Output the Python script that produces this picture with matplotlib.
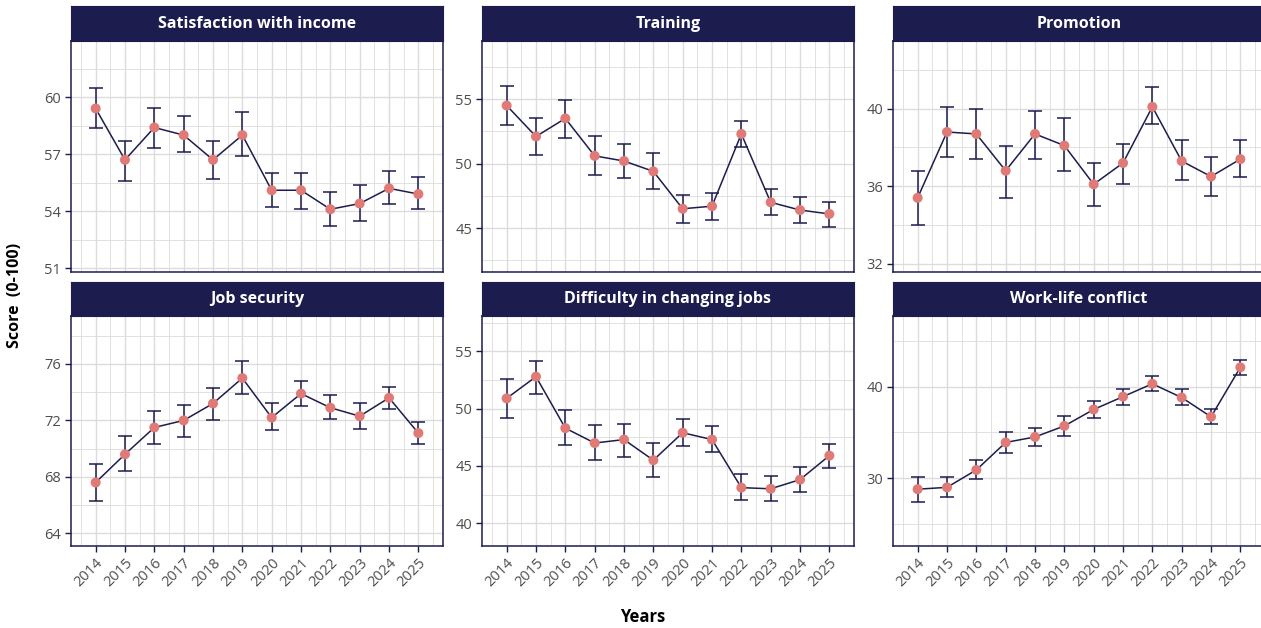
import matplotlib
matplotlib.use("Agg")
import matplotlib.pyplot as plt
from matplotlib.ticker import FixedLocator, MultipleLocator
import numpy as np

plt.rcParams['font.family'] = ['Open Sans', 'DejaVu Sans']

years = [2014, 2015, 2016, 2017, 2018, 2019, 2020, 2021, 2022, 2023, 2024, 2025]

titles = ["Satisfaction with income", "Training", "Promotion",
          "Job security", "Difficulty in changing jobs", "Work-life conflict"]

income_mean = [59.4, 56.7, 58.4, 58.0, 56.7, 58.0, 55.1, 55.1, 54.1, 54.4, 55.2, 54.9]
income_lo = [58.4, 55.6, 57.3, 57.1, 55.7, 56.9, 54.2, 54.1, 53.2, 53.5, 54.4, 54.1]
income_hi = [60.5, 57.7, 59.4, 59.0, 57.7, 59.2, 56.0, 56.0, 55.0, 55.4, 56.1, 55.8]

training_mean = [54.5, 52.1, 53.5, 50.6, 50.2, 49.4, 46.5, 46.7, 52.3, 47.0, 46.4, 46.1]
training_lo = [53.0, 50.7, 52.0, 49.1, 48.9, 48.0, 45.4, 45.6, 51.3, 46.0, 45.4, 45.1]
training_hi = [56.0, 53.5, 54.9, 52.1, 51.5, 50.8, 47.6, 47.7, 53.3, 48.0, 47.4, 47.0]

promotion_mean = [35.4, 38.8, 38.7, 36.8, 38.7, 38.1, 36.1, 37.2, 40.1, 37.3, 36.5, 37.4]
promotion_lo = [34.0, 37.5, 37.4, 35.4, 37.4, 36.8, 35.0, 36.1, 39.2, 36.3, 35.5, 36.5]
promotion_hi = [36.8, 40.1, 40.0, 38.1, 39.9, 39.5, 37.2, 38.2, 41.1, 38.4, 37.5, 38.4]

security_mean = [67.6, 69.6, 71.5, 72.0, 73.2, 75.0, 72.2, 73.9, 72.9, 72.3, 73.6, 71.1]
security_lo = [66.3, 68.4, 70.3, 70.8, 72.0, 73.9, 71.3, 73.0, 72.1, 71.4, 72.8, 70.3]
security_hi = [68.9, 70.9, 72.7, 73.1, 74.3, 76.2, 73.2, 74.8, 73.8, 73.2, 74.4, 71.9]

changing_mean = [50.9, 52.8, 48.3, 47.0, 47.3, 45.5, 47.9, 47.3, 43.1, 43.0, 43.8, 45.9]
changing_lo = [49.2, 51.3, 46.8, 45.5, 45.8, 44.0, 46.7, 46.2, 42.0, 41.9, 42.7, 44.8]
changing_hi = [52.6, 54.2, 49.9, 48.6, 48.7, 47.0, 49.1, 48.5, 44.3, 44.1, 44.9, 46.9]

worklife_mean = [28.8, 29.0, 30.9, 33.9, 34.5, 35.7, 37.5, 38.9, 40.3, 38.8, 36.7, 42.1]
worklife_lo = [27.4, 27.9, 29.9, 32.8, 33.5, 34.6, 36.6, 38.0, 39.5, 38.0, 35.9, 41.3]
worklife_hi = [30.1, 30.1, 32.0, 35.0, 35.5, 36.8, 38.4, 39.7, 41.1, 39.7, 37.5, 42.9]

series = [
    (income_mean, income_lo, income_hi),
    (training_mean, training_lo, training_hi),
    (promotion_mean, promotion_lo, promotion_hi),
    (security_mean, security_lo, security_hi),
    (changing_mean, changing_lo, changing_hi),
    (worklife_mean, worklife_lo, worklife_hi),
]

y_ticks = [[51, 54, 57, 60], [45, 50, 55], [32, 36, 40],
           [64, 68, 72, 76], [40, 45, 50, 55], [30, 40]]

y_limits = [(50.8, 62.95), (41.6, 59.5), (31.57, 43.5),
            (63.1, 79.4), (38.0, 58.1), (22.6, 47.7)]

navy = "#1c1c4e"
point_col = "#e07a76"
grid_col = "#dcdcdc"
tick_text = "#4d4d4d"

W, H = 1261, 628
fig = plt.figure(figsize=(W / 100, H / 100), dpi=100)

col_left = [71, 482, 893]
panel_w = 372
row_top = [41, 316]
row_bot = [272, 546]
strip_top = [6, 282]

for i, (title, (m, lo, hi)) in enumerate(zip(titles, series)):
    r, c = divmod(i, 3)
    x0 = col_left[c] / W
    y0 = 1 - row_bot[r] / H
    h = (row_bot[r] - row_top[r]) / H
    ax = fig.add_axes([x0, y0, panel_w / W, h])

    m = np.array(m)
    lo = np.array(lo)
    hi = np.array(hi)
    ax.errorbar(years, m, yerr=[m - lo, hi - m], fmt='none', ecolor=navy,
                elinewidth=1.1, capsize=5, capthick=1.1, zorder=3)
    ax.plot(years, m, color=navy, lw=1.1, zorder=4)
    ax.scatter(years, m, s=52, color=point_col, edgecolor='none', zorder=5)

    ax.set_xlim(2014 - 0.84, 2025 + 0.84)
    ax.set_ylim(*y_limits[i])
    ticks = y_ticks[i]
    step = ticks[1] - ticks[0]
    ax.yaxis.set_major_locator(FixedLocator(ticks))
    minor = np.arange(ticks[0] - 1.5 * step, ticks[-1] + 2 * step, step)
    ax.yaxis.set_minor_locator(FixedLocator(minor))
    ax.xaxis.set_major_locator(FixedLocator(years))
    ax.xaxis.set_minor_locator(MultipleLocator(0.5))
    ax.grid(which='major', color=grid_col, lw=1.0, zorder=0)
    ax.grid(which='minor', color=grid_col, lw=0.6, zorder=0)
    ax.set_axisbelow(True)
    for sp in ax.spines.values():
        sp.set_color(navy)
        sp.set_linewidth(1.1)
    ax.tick_params(which='minor', length=0)
    ax.tick_params(which='major', length=4, width=1.0, color=navy,
                   labelcolor=tick_text, labelsize=10.5, pad=3)
    if r == 1:
        ax.set_xticks(years)
        ax.set_xticklabels([str(y) for y in years], rotation=45,
                           ha='right', va='top', rotation_mode='anchor')
    else:
        ax.tick_params(axis='x', labelbottom=False, length=0)

    # facet strip
    sax = fig.add_axes([x0, 1 - row_top[r] / H, panel_w / W,
                        (row_top[r] - strip_top[r]) / H])
    sax.set_facecolor(navy)
    sax.set_xticks([])
    sax.set_yticks([])
    for sp in sax.spines.values():
        sp.set_color(navy)
    sax.text(0.5, 0.5, title, color='white', fontsize=11.5, fontweight='bold',
             ha='center', va='center', transform=sax.transAxes)

fig.text(643 / W, 1 - 617 / H, "Years", ha='center', va='center',
         fontsize=12, fontweight='bold', color='black')
fig.text(15 / W, 1 - 295 / H, "Score  (0-100)", ha='center', va='center',
         rotation=90, fontsize=11.5, fontweight='bold', color='black')

fig.savefig("out.png", dpi=100, facecolor='white')
